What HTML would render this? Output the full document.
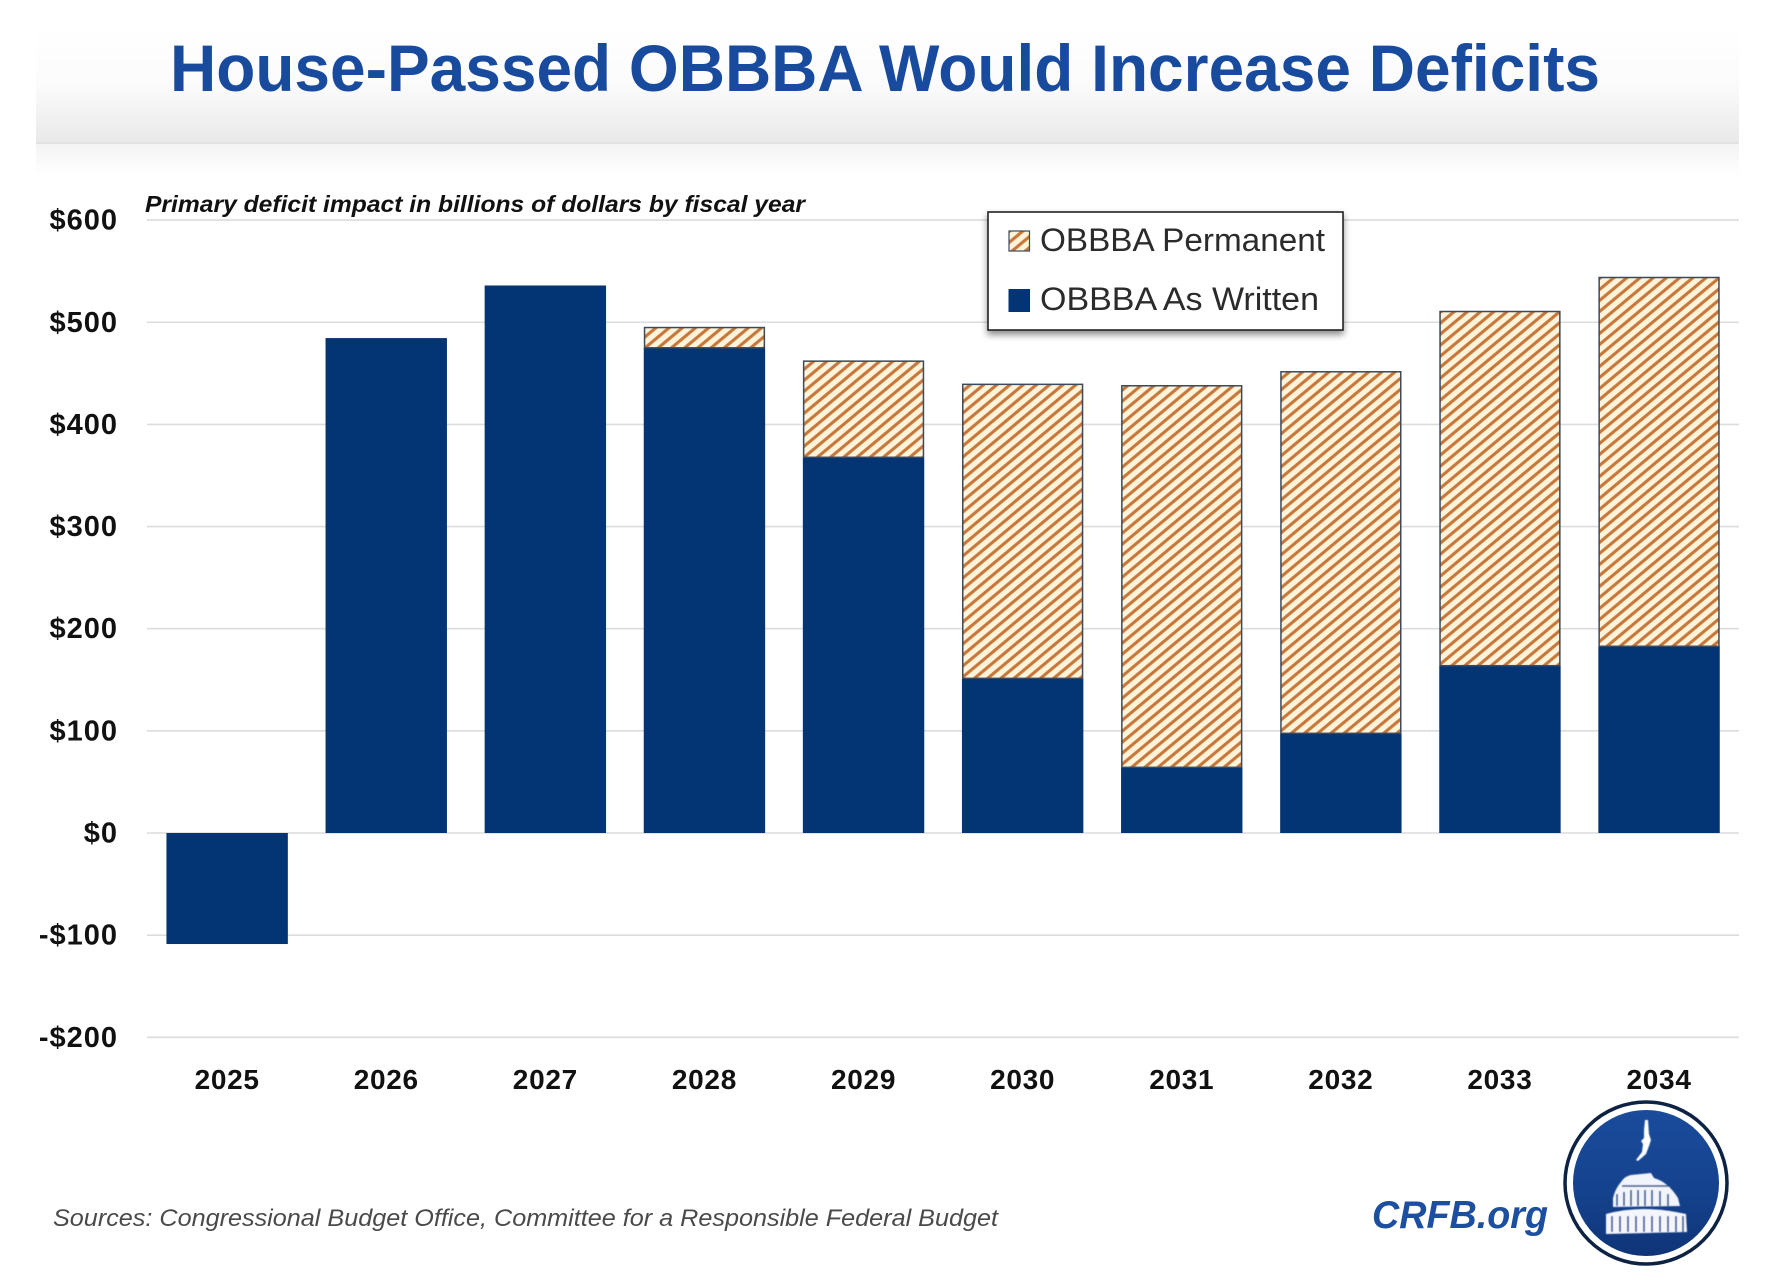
<!DOCTYPE html>
<html lang="en">
<head>
<meta charset="utf-8">
<title>House-Passed OBBBA Would Increase Deficits</title>
<style>
  html, body { margin: 0; padding: 0; background: #fff; width: 1779px; height: 1281px; overflow: hidden; }
  svg { display: block; }
  text { font-family: "Liberation Sans", sans-serif; }
</style>
</head>
<body>
<svg id="chart" xmlns="http://www.w3.org/2000/svg" width="1779" height="1281" viewBox="0 0 1779 1281">
  <defs>
    <linearGradient id="headerGrad" x1="0" y1="0" x2="0" y2="1">
      <stop offset="0" stop-color="#ffffff"/>
      <stop offset="0.5" stop-color="#fbfbfb"/>
      <stop offset="1" stop-color="#e9e9e9"/>
    </linearGradient>
    <linearGradient id="underGrad" x1="0" y1="0" x2="0" y2="1">
      <stop offset="0" stop-color="#f4f4f4"/>
      <stop offset="1" stop-color="#ffffff"/>
    </linearGradient>
    <linearGradient id="logoGrad" x1="0" y1="0" x2="0" y2="1">
      <stop offset="0" stop-color="#1a4c9c"/>
      <stop offset="0.6" stop-color="#14418c"/>
      <stop offset="1" stop-color="#0f3478"/>
    </linearGradient>
    <pattern id="hatch" patternUnits="userSpaceOnUse" width="20" height="8.45" patternTransform="rotate(-39.8)">
      <rect width="20" height="8.45" fill="#fff3d9"/>
      <rect width="20" height="3.1" y="2.6" fill="#c7763a"/>
    </pattern>
    <filter id="legendShadow" x="-10%" y="-10%" width="120%" height="125%">
      <feDropShadow dx="0" dy="4" stdDeviation="3.5" flood-color="#000" flood-opacity="0.45"/>
    </filter>
    <filter id="soft" x="-5%" y="-5%" width="110%" height="110%">
      <feGaussianBlur stdDeviation="0.5"/>
    </filter>
  </defs>

  <g>
    <rect x="36" y="26" width="1703" height="117" fill="url(#headerGrad)"/>
    <rect x="36" y="142" width="1703" height="2" fill="#e2e2e2"/>
    <rect x="36" y="144" width="1703" height="32" fill="url(#underGrad)"/>
    <text x="170" y="91" font-size="66" font-weight="700" fill="#184a9e" textLength="1430" lengthAdjust="spacingAndGlyphs">House-Passed OBBBA Would Increase Deficits</text>
  </g>

  <g id="grid"></g>
  <g id="yAxis"></g>
  <g id="bars"></g>
  <g id="xAxis"></g>

  <text x="145" y="212" font-size="23" font-weight="700" font-style="italic" fill="#111" textLength="660" lengthAdjust="spacingAndGlyphs">Primary deficit impact in billions of dollars by fiscal year</text>

  <g>
    <rect x="988" y="212" width="355" height="118" fill="#fff" stroke="#222" stroke-width="1.6" filter="url(#legendShadow)"/>
    <g>
      <rect x="1009" y="231" width="20.5" height="20" fill="url(#hatch)" stroke="#3b4a5c" stroke-width="1.2"/>
      <text x="1040" y="251" font-size="32" fill="#2b2b2b" textLength="285" lengthAdjust="spacingAndGlyphs">OBBBA Permanent</text>
    </g>
    <g>
      <rect x="1008.5" y="289" width="21.5" height="23" fill="#033473"/>
      <text x="1040" y="310" font-size="32" fill="#2b2b2b" textLength="279" lengthAdjust="spacingAndGlyphs">OBBBA As Written</text>
    </g>
  </g>

  <text x="53" y="1226" font-size="24" font-style="italic" fill="#4a4a4a" textLength="945" lengthAdjust="spacingAndGlyphs">Sources: Congressional Budget Office, Committee for a Responsible Federal Budget</text>
  <text x="1372" y="1228" font-size="39" font-weight="700" font-style="italic" fill="#1c4f9f" textLength="176" lengthAdjust="spacingAndGlyphs">CRFB.org</text>

  <g>
    <circle cx="1646" cy="1183" r="81" fill="#fff" stroke="#0e2344" stroke-width="3.5"/>
    <circle cx="1646" cy="1183" r="73" fill="url(#logoGrad)"/>
    <g filter="url(#soft)">
      <path fill="#fff" d="M1645 1120 l3 0 l1 14 l2 6 l-2 6 l-3 8 l-8 7 l-2 -1 l6 -8 l1 -8 l-2 -3 l3 -3 l0 -8 z"/>
      <path fill="#f1f4fa" d="M1621 1182 q4 -6 10 -7 l20 -2 l3 5 q14 4 24 20 l2 8 l-67 1 l0 -9 q2 -9 8 -16 z"/>
      <path fill="#f4f6fb" d="M1606 1214 q36 -10 80 0 l1 18 l-81 2 z"/>
      <g stroke="#1a4385" stroke-width="1.6">
        <line x1="1617" y1="1194" x2="1617" y2="1206"/><line x1="1624" y1="1192" x2="1624" y2="1206"/>
        <line x1="1631" y1="1190" x2="1631" y2="1206"/><line x1="1638" y1="1190" x2="1638" y2="1206"/>
        <line x1="1645" y1="1190" x2="1645" y2="1206"/><line x1="1652" y1="1190" x2="1652" y2="1206"/>
        <line x1="1660" y1="1191" x2="1660" y2="1206"/><line x1="1668" y1="1194" x2="1668" y2="1206"/>
        <line x1="1612" y1="1216" x2="1612" y2="1232"/><line x1="1620" y1="1216" x2="1620" y2="1232"/>
        <line x1="1628" y1="1216" x2="1628" y2="1232"/><line x1="1636" y1="1216" x2="1636" y2="1232"/>
        <line x1="1644" y1="1216" x2="1644" y2="1232"/><line x1="1652" y1="1216" x2="1652" y2="1232"/>
        <line x1="1660" y1="1216" x2="1660" y2="1232"/><line x1="1668" y1="1216" x2="1668" y2="1232"/>
        <line x1="1676" y1="1216" x2="1676" y2="1232"/><line x1="1683" y1="1216" x2="1683" y2="1232"/>
        <line x1="1622" y1="1186" x2="1672" y2="1186"/>
      </g>
    </g>
  </g>
</svg>

<script>
const categories = ["2025","2026","2027","2028","2029","2030","2031","2032","2033","2034"];
const asWritten = [-108.7, 484.5, 536, 475, 367.8, 151.4, 64.3, 97.6, 163.8, 182.8];
const permanent = [0, 0, 0, 20.6, 94.9, 288.6, 374.3, 354.7, 347.5, 361.8];
const yTickValues = [600, 500, 400, 300, 200, 100, 0, -100, -200];
const yTickLabels = ["$600", "$500", "$400", "$300", "$200", "$100", "$0", "-$100", "-$200"];

const SVG_NS = "http://www.w3.org/2000/svg";
const plotLeft = 147, plotRight = 1739, bandStart = 147.6, bandWidth = 159.1, barWidth = 121.4;
const zeroY = 833, pxPerUnit = 1.0215;

function xCenter(i) { return bandStart + bandWidth * (i + 0.5); }
function yScale(v) { return zeroY - v * pxPerUnit; }
function mk(tag, attrs) {
  const el = document.createElementNS(SVG_NS, tag);
  for (const k in attrs) el.setAttribute(k, attrs[k]);
  return el;
}

const grid = document.getElementById("grid");
const yAxis = document.getElementById("yAxis");
const bars = document.getElementById("bars");
const xAxis = document.getElementById("xAxis");

yTickValues.forEach(function (v, i) {
  const y = yScale(v);
  const line = mk("line", { x1: plotLeft, x2: plotRight, y1: y, y2: y, stroke: "#dcdcdc", "stroke-width": 1.6 });
  
  
  grid.appendChild(line);

  const label = mk("text", { x: 118, y: y + 9.5, "text-anchor": "end", "font-size": 29, "font-weight": 700, fill: "#111", "letter-spacing": 1 });
  label.textContent = yTickLabels[i];
  
  
  yAxis.appendChild(label);
});

categories.forEach(function (cat, i) {
  const left = xCenter(i) - barWidth / 2;
  const base = asWritten[i];
  const top = Math.max(base, 0);
  const bottom = Math.min(base, 0);

  const bar = mk("rect", { x: left, y: yScale(top), width: barWidth, height: yScale(bottom) - yScale(top), fill: "#033473" });
  
  
  bars.appendChild(bar);

  if (permanent[i] > 0) {
    const hatch = mk("rect", { x: left + 0.8, y: yScale(top + permanent[i]) + 0.8, width: barWidth - 1.6, height: yScale(top) - yScale(top + permanent[i]) - 0.8, fill: "url(#hatch)", stroke: "#3b4a5c", "stroke-width": 1.5 });
    
    
    bars.appendChild(hatch);
  }

  const label = mk("text", { x: xCenter(i), y: 1089, "text-anchor": "middle", "font-size": 28, "font-weight": 700, fill: "#111", "letter-spacing": 0.7 });
  label.textContent = cat;
  
  
  xAxis.appendChild(label);
});
</script>
</body>
</html>
